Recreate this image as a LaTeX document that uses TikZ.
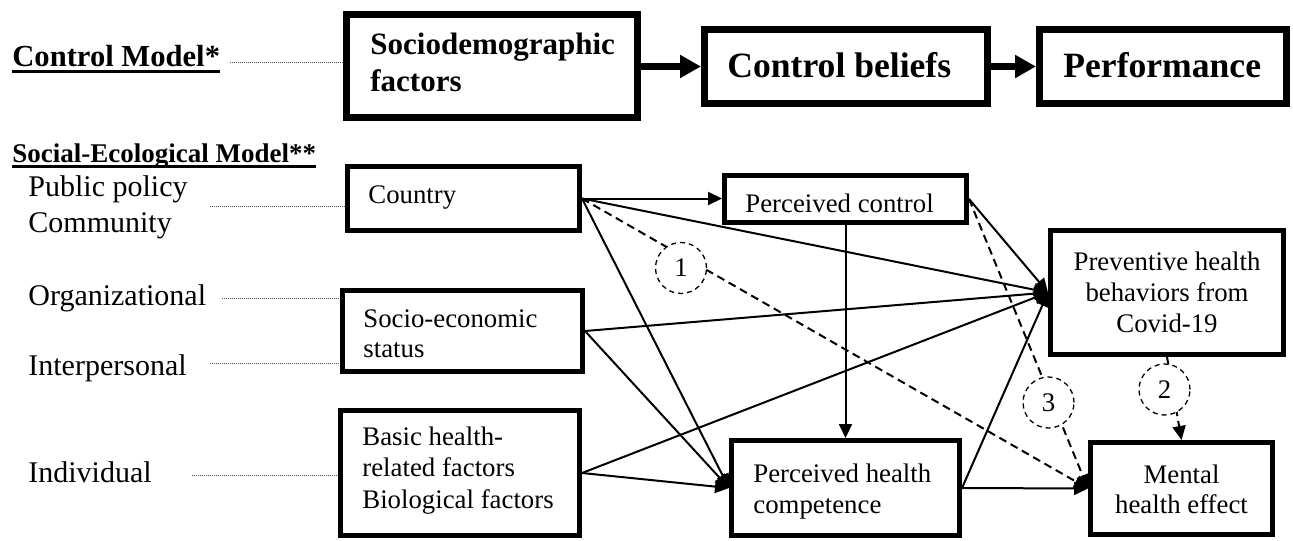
\documentclass[tikz,border=0pt]{standalone}
\usepackage{fontspec}
\setmainfont{Liberation Serif}
\usetikzlibrary{arrows.meta,calc}
\newcommand\myul[1]{\setbox0\hbox{#1}\rlap{\rule[-2.8pt]{\wd0}{1.5pt}}\box0}
\begin{document}
\begin{tikzpicture}[x=0.5pt,y=-0.5pt,
  bigbox/.style={draw, line width=3.5pt, inner sep=0pt, outer sep=1.75pt},
  box/.style={draw, line width=2.5pt, inner sep=0pt, outer sep=1.25pt},
  bt/.style={inner sep=0pt, anchor=base west, font=\fontsize{13.4}{15.5}\selectfont},
  ct/.style={inner sep=0pt, anchor=base, font=\fontsize{13.4}{15.5}\selectfont},
  layer/.style={inner sep=0pt, anchor=base west, font=\fontsize{15}{18}\selectfont},
  head/.style={inner sep=0pt, anchor=base west},
  conn/.style={line width=1pt, -{Triangle[length=7pt,width=6.5pt]}},
  dconn/.style={line width=1pt, dash pattern=on 4pt off 2.5pt, -{Triangle[length=7pt,width=6.5pt]}},
  tarrow/.style={line width=3.5pt, -{Triangle[length=10.5pt,width=11pt]}},
  dotl/.style={line width=0.5pt, black!70, dash pattern=on 0.5pt off 0.5pt},
  numc/.style={circle, draw, fill=white, line width=0.65pt, dash pattern=on 2.5pt off 2pt,
    minimum size=25.5pt, inner sep=0pt, font=\fontsize{13.4}{15.5}\selectfont}]
\useasboundingbox (0,0) rectangle (1293,540);

% ---- boxes ----
\node[bigbox, minimum width=145.5pt, minimum height=51.5pt] (soc) at (492,66) {};
\node[bigbox, minimum width=141.5pt, minimum height=37pt] (cb) at (846,66.5) {};
\node[bigbox, minimum width=123.5pt, minimum height=37pt] (perf) at (1163,66.5) {};
\node[box, minimum width=116pt, minimum height=32pt] (country) at (463.5,198.5) {};
\node[box, minimum width=121pt, minimum height=23.5pt] (pc) at (845.5,199) {};
\node[box, minimum width=120pt, minimum height=40.5pt] (ses) at (462.5,331) {};
\node[box, minimum width=119.5pt, minimum height=62.5pt] (basic) at (460,473) {};
\node[box, minimum width=114pt, minimum height=47.5pt] (phc) at (845.5,488) {};
\node[box, minimum width=116.5pt, minimum height=62pt] (prev) at (1167,292.5) {};
\node[box, minimum width=91pt, minimum height=46pt] (mental) at (1181.5,488.5) {};

% ---- texts in boxes ----
\node[head, font=\bfseries\fontsize{15.5}{18}\selectfont] (socT) at (370,55)
  {\begin{tabular}[t]{@{}l@{}}Sociodemographic\\factors\end{tabular}};
\node[head, font=\bfseries\fontsize{17.8}{20}\selectfont] (cbT) at (727,77) {Control beliefs};
\node[head, font=\bfseries\fontsize{17.8}{20}\selectfont] (perfT) at (1063,77) {Performance};
\node[bt] (countryT) at (368,203) {Country};
\node[bt] (pcT) at (745,212) {Perceived control};
\node[bt, font=\fontsize{13.4}{15}\selectfont] (sesT) at (363,327)
  {\begin{tabular}[t]{@{}l@{}}Socio-economic\\status\end{tabular}};
\node[bt, font=\fontsize{13.4}{15.75}\selectfont] (basicT) at (362,445)
  {\begin{tabular}[t]{@{}l@{}}Basic health-\\related factors\\Biological factors\end{tabular}};
\node[bt] (phcT) at (753,482)
  {\begin{tabular}[t]{@{}l@{}}Perceived health\\competence\end{tabular}};
\node[ct] (prevT) at (1167,270)
  {\begin{tabular}[t]{@{}c@{}}Preventive health\\behaviors from\\Covid-19\end{tabular}};
\node[ct, font=\fontsize{13.4}{15}\selectfont] (mentalT) at (1181.5,483)
  {\begin{tabular}[t]{@{}c@{}}Mental\\health effect\end{tabular}};

% ---- left labels ----
\node[head, font=\bfseries\fontsize{15.3}{18}\selectfont] (cm) at (12,67) {\myul{Control Model*}};
\node[head, font=\bfseries\fontsize{13.5}{16}\selectfont] (sem) at (12,162) {\myul{Social-Ecological Model**}};
\node[layer] (lpp) at (28,196) {Public policy};
\node[layer] (lcom) at (28,232) {Community};
\node[layer] (lorg) at (28,305) {Organizational};
\node[layer] (lint) at (28,375) {Interpersonal};
\node[layer] (lind) at (28,482) {Individual};

% ---- dotted leader lines ----
\coordinate (dcm) at (230,63);
\coordinate (dpp) at (210,206);
\coordinate (dorg) at (222,298);
\coordinate (dint) at (210,363);
\coordinate (dind) at (192,475);
\draw[dotl] (dcm) -- (dcm -| soc.west);
\draw[dotl] (dpp) -- (dpp -| country.west);
\draw[dotl] (dorg) -- (dorg -| ses.west);
\draw[dotl] (dint) -- (dint -| ses.west);
\draw[dotl] (dind) -- (dind -| basic.west);

% ---- control model arrows ----
\draw[tarrow] (soc.east |- cb.west) -- (cb.west);
\draw[tarrow] (cb.east) -- (perf.west);

% ---- social-ecological connectors ----
\draw[conn] (country.east) -- (country.east -| pc.west);
\draw[conn] (country.east) -- (prev.west);
\draw[conn] (country.east) -- (phc.west);
\draw[conn] (pc.south) -- (phc.north);
\draw[conn] (pc.east) -- (prev.west);
\draw[conn] (ses.east) -- (prev.west);
\draw[conn] (ses.east) -- (phc.west);
\draw[conn] (basic.east) -- (prev.west);
\draw[conn] (basic.east) -- (phc.west);
\draw[conn] (phc.east) -- (prev.west);
\draw[conn] (phc.east) -- (mental.west);

% ---- dashed (mediation) paths ----
\draw[dconn] (country.east) -- (mental.west);
\draw[dconn] (pc.east) -- (mental.west);
\draw[dconn] (prev.south) -- (mental.north);

\node[numc] (n1) at (681,268) {1};
\node[numc] (n2) at (1164.5,389.5) {2};
\node[numc] (n3) at (1048.5,402.5) {3};
\end{tikzpicture}
\end{document}
